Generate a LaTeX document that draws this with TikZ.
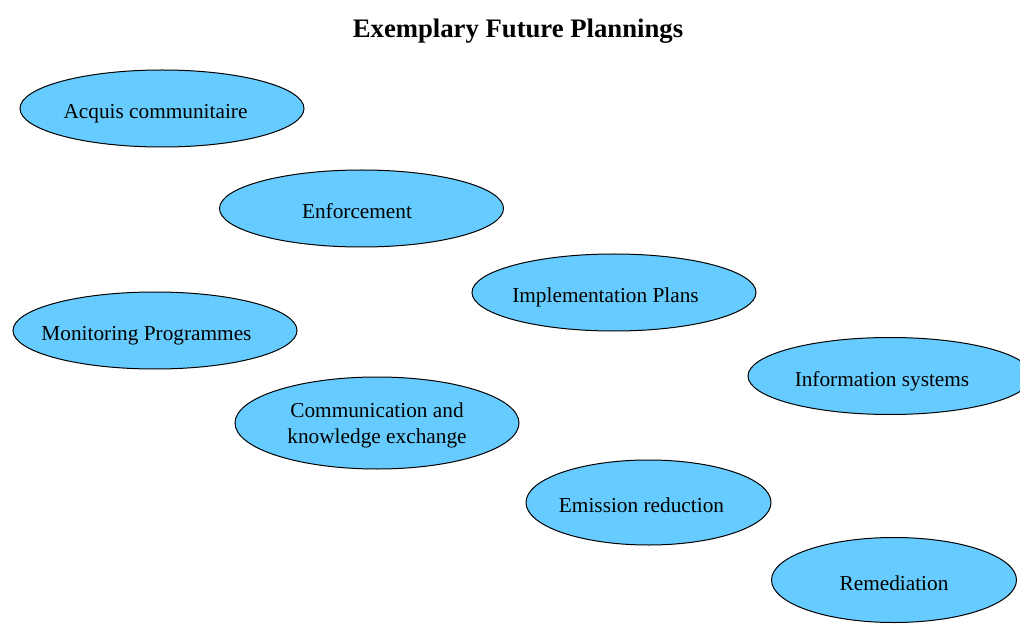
\documentclass[tikz,border=0pt]{standalone}
\usepackage{fontspec}
\setmainfont{Liberation Serif}
\usetikzlibrary{shapes.geometric}
\definecolor{ellfill}{HTML}{66CCFF}
\tikzset{
  plan/.style={ellipse, draw=black, line width=1pt, fill=ellfill,
    inner sep=0pt, minimum width=284pt, minimum height=77pt},
  planbig/.style={plan, minimum height=92pt},
  plansmall/.style={plan, minimum width=245pt, minimum height=85pt},
  txt/.style={font=\fontsize{21.3}{26}\selectfont, align=center, inner sep=0pt,
    text height=18pt, text depth=1pt, yshift=-1.5pt},
  txtml/.style={font=\fontsize{21.3}{26}\selectfont, align=center, inner sep=0pt}
}
\begin{document}
\begin{tikzpicture}[x=1pt,y=1pt]
\useasboundingbox (0,0) rectangle (1020,-636);
\clip (0,0) rectangle (1020,-636);
\node[font=\fontsize{26.7}{32}\selectfont\bfseries] (title) at (518,-31.5) {Exemplary Future Plannings};
\node[plan, label={[txt, xshift=-6.5pt]center:Acquis communitaire}] (acquis) at (162,-108.5) {};
\node[plan, label={[txt, xshift=-4.5pt]center:Enforcement}] (enf) at (361.5,-208.5) {};
\node[plan, label={[txt, xshift=-8.5pt]center:Implementation Plans}] (impl) at (614,-292.5) {};
\node[plan, label={[txt, xshift=-8.5pt]center:Monitoring Programmes}] (mon) at (155,-330.5) {};
\node[plan, label={[txt, xshift=-8pt]center:Information systems}] (info) at (890,-376) {};
\node[planbig, label={[txtml, yshift=-2.5pt]center:Communication and\\knowledge exchange}] (comm) at (377,-423) {};
\node[plansmall, label={[txt, xshift=-7pt]center:Emission reduction}] (emis) at (648.5,-502.5) {};
\node[plansmall, label={[txt]center:Remediation}] (rem) at (894,-580) {};
\end{tikzpicture}
\end{document}
